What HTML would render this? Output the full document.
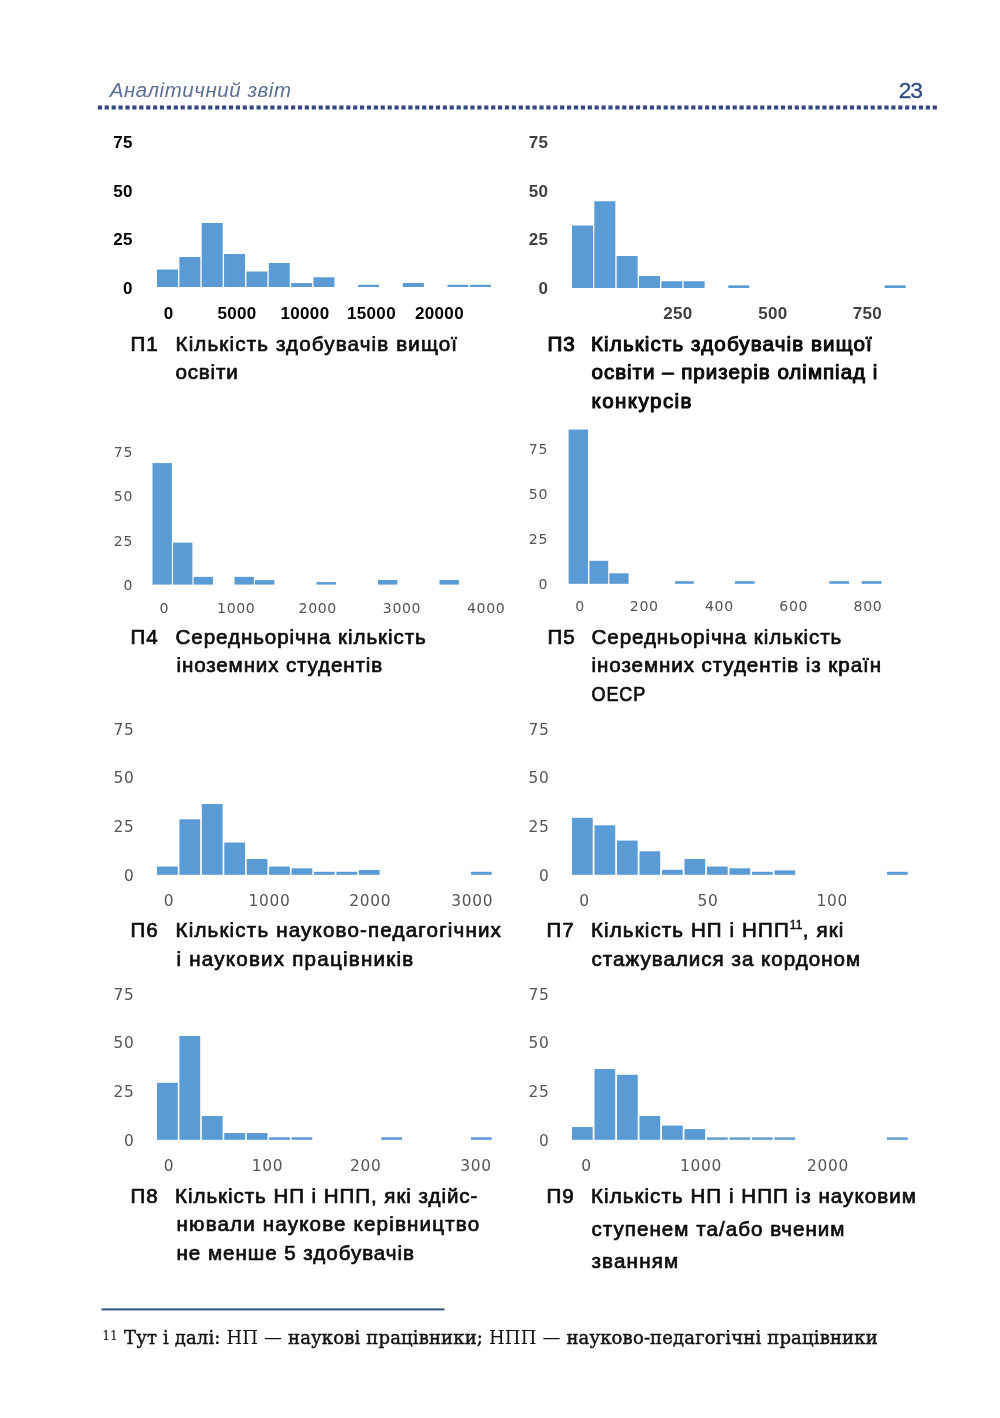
<!DOCTYPE html>
<html lang="uk">
<head>
<meta charset="utf-8">
<title>Аналітичний звіт — 23</title>
<style>
html,body{margin:0;padding:0;background:#fff;}
body{width:1000px;height:1418px;overflow:hidden;position:relative;}
svg{position:absolute;left:0;top:0;display:block;}
text{white-space:pre;}
.bars rect{fill:#5b9bd5;shape-rendering:auto;}
.lb1{font-family:"Liberation Sans",sans-serif;font-weight:bold;font-size:17px;fill:#000;letter-spacing:0.3px;}
.lb2{font-family:"Liberation Sans",sans-serif;font-weight:bold;font-size:17px;fill:#404040;letter-spacing:0.3px;}
.lb3{font-family:"DejaVu Sans","Liberation Sans",sans-serif;font-size:14.1px;fill:#555;letter-spacing:0.65px;}
.lb4{font-family:"DejaVu Sans","Liberation Sans",sans-serif;font-size:15.4px;fill:#555;letter-spacing:0.7px;}
.c1{font-family:"Liberation Sans",sans-serif;font-size:20.6px;fill:#0d0d0d;letter-spacing:1.0px;stroke:#0d0d0d;stroke-width:0.7px;stroke-linejoin:round;}
.c2{font-family:"Liberation Sans",sans-serif;font-size:20.6px;fill:#0a0a0a;letter-spacing:1.0px;stroke:#0a0a0a;stroke-width:1.05px;stroke-linejoin:round;}
.sup{font-size:12px;letter-spacing:0.2px;stroke-width:0.4px;}
.hd{font-family:"Liberation Sans",sans-serif;font-style:italic;font-size:20.5px;fill:#5a7096;letter-spacing:0.5px;}
.pn{font-family:"Liberation Sans",sans-serif;font-size:22.8px;fill:#2f4a80;stroke:#2f4a80;stroke-width:0.3px;letter-spacing:-1.2px;}
.dots{stroke:#364880;stroke-width:4.2;stroke-dasharray:4.2 2.7;}
.fn{font-family:"DejaVu Serif","Liberation Serif",serif;font-size:18px;fill:#111;letter-spacing:0.1px;}
.fb{stroke:#111;stroke-width:0.45px;}
.fsup{font-family:"DejaVu Serif","Liberation Serif",serif;font-size:12.3px;fill:#111;}
</style>
</head>
<body>
<svg width="1000" height="1418" viewBox="0 0 1000 1418">
<g class="bars">
<rect x="157.00" y="269.50" width="21.00" height="17.50"/>
<rect x="179.35" y="257.00" width="21.00" height="30.00"/>
<rect x="201.70" y="223.00" width="21.00" height="64.00"/>
<rect x="224.05" y="254.00" width="21.00" height="33.00"/>
<rect x="246.40" y="271.50" width="21.00" height="15.50"/>
<rect x="268.75" y="263.00" width="21.00" height="24.00"/>
<rect x="291.10" y="283.10" width="21.00" height="3.90"/>
<rect x="313.45" y="277.30" width="21.00" height="9.70"/>
<rect x="358.15" y="284.80" width="21.00" height="2.20"/>
<rect x="402.85" y="283.00" width="21.00" height="4.00"/>
<rect x="447.55" y="284.80" width="21.00" height="2.20"/>
<rect x="469.90" y="284.80" width="21.00" height="2.20"/>
</g>
<g class="lb1" text-anchor="end">
<text x="132.8" y="148.20">75</text>
<text x="132.8" y="196.90">50</text>
<text x="132.8" y="245.30">25</text>
<text x="132.8" y="294.20">0</text>
</g>
<g class="lb1" text-anchor="middle">
<text x="168.7" y="318.60">0</text>
<text x="237" y="318.60">5000</text>
<text x="305" y="318.60">10000</text>
<text x="371.5" y="318.60">15000</text>
<text x="439.5" y="318.60">20000</text>
</g>
<g class="bars">
<rect x="572.00" y="225.50" width="21.00" height="62.50"/>
<rect x="594.33" y="201.25" width="21.00" height="86.75"/>
<rect x="616.66" y="256.00" width="21.00" height="32.00"/>
<rect x="638.99" y="276.00" width="21.00" height="12.00"/>
<rect x="661.32" y="281.25" width="21.00" height="6.75"/>
<rect x="683.65" y="281.25" width="21.00" height="6.75"/>
<rect x="728.31" y="285.40" width="21.00" height="2.60"/>
<rect x="884.62" y="285.40" width="21.00" height="2.60"/>
</g>
<g class="lb2" text-anchor="end">
<text x="548.3" y="148.20">75</text>
<text x="548.3" y="196.90">50</text>
<text x="548.3" y="245.30">25</text>
<text x="548.3" y="294.20">0</text>
</g>
<g class="lb2" text-anchor="middle">
<text x="678" y="319.10">250</text>
<text x="773" y="319.10">500</text>
<text x="867.3" y="319.10">750</text>
</g>
<g class="bars">
<rect x="152.50" y="463.10" width="19.40" height="121.50"/>
<rect x="173.00" y="542.60" width="19.40" height="42.00"/>
<rect x="193.50" y="576.85" width="19.40" height="7.75"/>
<rect x="234.50" y="576.85" width="19.40" height="7.75"/>
<rect x="255.00" y="580.10" width="19.40" height="4.50"/>
<rect x="316.50" y="582.10" width="19.40" height="2.50"/>
<rect x="378.00" y="580.00" width="19.40" height="4.60"/>
<rect x="439.50" y="580.00" width="19.40" height="4.60"/>
</g>
<g class="lb3" text-anchor="end">
<text x="133.0" y="457.00">75</text>
<text x="133.0" y="500.75">50</text>
<text x="133.0" y="545.75">25</text>
<text x="133.0" y="590.00">0</text>
</g>
<g class="lb3" text-anchor="middle">
<text x="164.25" y="612.50">0</text>
<text x="236.25" y="612.50">1000</text>
<text x="317.75" y="612.50">2000</text>
<text x="402" y="612.50">3000</text>
<text x="486.2" y="612.50">4000</text>
</g>
<g class="bars">
<rect x="568.60" y="429.55" width="19.40" height="154.25"/>
<rect x="589.40" y="560.80" width="18.80" height="23.00"/>
<rect x="609.40" y="573.30" width="19.20" height="10.50"/>
<rect x="675.00" y="581.20" width="18.70" height="2.60"/>
<rect x="735.00" y="581.20" width="19.50" height="2.60"/>
<rect x="829.40" y="581.20" width="19.60" height="2.60"/>
<rect x="861.60" y="581.20" width="20.00" height="2.60"/>
</g>
<g class="lb3" text-anchor="end">
<text x="548.0" y="454.25">75</text>
<text x="548.0" y="499.25">50</text>
<text x="548.0" y="544.25">25</text>
<text x="548.0" y="589.25">0</text>
</g>
<g class="lb3" text-anchor="middle">
<text x="580" y="611.25">0</text>
<text x="644.25" y="611.25">200</text>
<text x="719.4" y="611.25">400</text>
<text x="793.7" y="611.25">600</text>
<text x="868" y="611.25">800</text>
</g>
<g class="bars">
<rect x="157.00" y="866.55" width="20.80" height="8.25"/>
<rect x="179.42" y="819.30" width="20.80" height="55.50"/>
<rect x="201.84" y="804.05" width="20.80" height="70.75"/>
<rect x="224.26" y="842.55" width="20.80" height="32.25"/>
<rect x="246.68" y="859.05" width="20.80" height="15.75"/>
<rect x="269.10" y="866.55" width="20.80" height="8.25"/>
<rect x="291.52" y="868.30" width="20.80" height="6.50"/>
<rect x="313.94" y="871.80" width="20.80" height="3.00"/>
<rect x="336.36" y="871.80" width="20.80" height="3.00"/>
<rect x="358.78" y="870.00" width="20.80" height="4.80"/>
<rect x="470.88" y="871.80" width="20.80" height="3.00"/>
</g>
<g class="lb4" text-anchor="end">
<text x="134.6" y="734.75">75</text>
<text x="134.6" y="783.45">50</text>
<text x="134.6" y="832.25">25</text>
<text x="134.6" y="880.65">0</text>
</g>
<g class="lb4" text-anchor="middle">
<text x="169" y="905.55">0</text>
<text x="269.6" y="905.55">1000</text>
<text x="370.2" y="905.55">2000</text>
<text x="472.2" y="905.55">3000</text>
</g>
<g class="bars">
<rect x="572.00" y="817.80" width="20.70" height="57.00"/>
<rect x="594.50" y="825.30" width="20.70" height="49.50"/>
<rect x="617.00" y="840.55" width="20.70" height="34.25"/>
<rect x="639.50" y="851.30" width="20.70" height="23.50"/>
<rect x="662.00" y="869.80" width="20.70" height="5.00"/>
<rect x="684.50" y="859.05" width="20.70" height="15.75"/>
<rect x="707.00" y="866.55" width="20.70" height="8.25"/>
<rect x="729.50" y="868.30" width="20.70" height="6.50"/>
<rect x="752.00" y="871.80" width="20.70" height="3.00"/>
<rect x="774.50" y="870.40" width="20.70" height="4.40"/>
<rect x="887.00" y="871.80" width="20.70" height="3.00"/>
</g>
<g class="lb4" text-anchor="end">
<text x="549.6" y="734.75">75</text>
<text x="549.6" y="783.45">50</text>
<text x="549.6" y="832.25">25</text>
<text x="549.6" y="880.65">0</text>
</g>
<g class="lb4" text-anchor="middle">
<text x="584.5" y="905.55">0</text>
<text x="708" y="905.55">50</text>
<text x="832.3" y="905.55">100</text>
</g>
<g class="bars">
<rect x="157.00" y="1082.80" width="20.80" height="57.00"/>
<rect x="179.42" y="1036.05" width="20.80" height="103.75"/>
<rect x="201.84" y="1116.05" width="20.80" height="23.75"/>
<rect x="224.26" y="1133.05" width="20.80" height="6.75"/>
<rect x="246.68" y="1133.05" width="20.80" height="6.75"/>
<rect x="269.10" y="1137.30" width="20.80" height="2.50"/>
<rect x="291.52" y="1137.30" width="20.80" height="2.50"/>
<rect x="381.20" y="1137.30" width="20.80" height="2.50"/>
<rect x="470.88" y="1137.30" width="20.80" height="2.50"/>
</g>
<g class="lb4" text-anchor="end">
<text x="134.6" y="999.75">75</text>
<text x="134.6" y="1048.45">50</text>
<text x="134.6" y="1097.25">25</text>
<text x="134.6" y="1145.65">0</text>
</g>
<g class="lb4" text-anchor="middle">
<text x="169" y="1170.55">0</text>
<text x="267.5" y="1170.55">100</text>
<text x="365.7" y="1170.55">200</text>
<text x="476" y="1170.55">300</text>
</g>
<g class="bars">
<rect x="572.00" y="1127.05" width="20.70" height="12.75"/>
<rect x="594.50" y="1069.05" width="20.70" height="70.75"/>
<rect x="617.00" y="1074.80" width="20.70" height="65.00"/>
<rect x="639.50" y="1116.05" width="20.70" height="23.75"/>
<rect x="662.00" y="1125.55" width="20.70" height="14.25"/>
<rect x="684.50" y="1129.05" width="20.70" height="10.75"/>
<rect x="707.00" y="1137.40" width="20.70" height="2.40"/>
<rect x="729.50" y="1137.40" width="20.70" height="2.40"/>
<rect x="752.00" y="1137.40" width="20.70" height="2.40"/>
<rect x="774.50" y="1137.40" width="20.70" height="2.40"/>
<rect x="887.00" y="1137.40" width="20.70" height="2.40"/>
</g>
<g class="lb4" text-anchor="end">
<text x="549.6" y="999.75">75</text>
<text x="549.6" y="1048.45">50</text>
<text x="549.6" y="1097.25">25</text>
<text x="549.6" y="1145.65">0</text>
</g>
<g class="lb4" text-anchor="middle">
<text x="586.5" y="1170.55">0</text>
<text x="701" y="1170.55">1000</text>
<text x="828" y="1170.55">2000</text>
</g>
<g class="c1">
<text id="P1_tag" x="130.50" y="351.0">П1</text>
<text id="P1_L1" x="175.50" y="351.0" textLength="282.60" lengthAdjust="spacing">Кількість здобувачів вищої</text>
<text id="P1_L2" x="175.50" y="378.5" textLength="63.20" lengthAdjust="spacing">освіти</text>
</g>
<g class="c2">
<text id="P3_tag" x="547.50" y="351.2">П3</text>
<text id="P3_L1" x="591.00" y="351.2" textLength="281.80" lengthAdjust="spacing">Кількість здобувачів вищої</text>
<text id="P3_L2" x="591.50" y="379.0" textLength="286.81" lengthAdjust="spacing">освіти – призерів олімпіад і</text>
<text id="P3_L3" x="591.50" y="407.5" textLength="101.04" lengthAdjust="spacing">конкурсів</text>
</g>
<g class="c1">
<text id="P4_tag" x="130.50" y="644.3">П4</text>
<text id="P4_L1" x="175.50" y="644.3" textLength="251.23" lengthAdjust="spacing">Середньорічна кількість</text>
<text id="P4_L2" x="176.50" y="672.3" textLength="206.67" lengthAdjust="spacing">іноземних студентів</text>
</g>
<g class="c1">
<text id="P5_tag" x="547.50" y="644.3">П5</text>
<text id="P5_L1" x="591.50" y="644.3" textLength="250.83" lengthAdjust="spacing">Середньорічна кількість</text>
<text id="P5_L2" x="591.50" y="672.3" textLength="290.53" lengthAdjust="spacing">іноземних студентів із країн</text>
<text id="P5_L3" x="591.50" y="700.5" textLength="54.57" lengthAdjust="spacingAndGlyphs">ОЕСР</text>
</g>
<g class="c1">
<text id="P6_tag" x="130.50" y="937.4">П6</text>
<text id="P6_L1" x="175.50" y="937.4" textLength="326.41" lengthAdjust="spacing">Кількість науково-педагогічних</text>
<text id="P6_L2" x="176.50" y="966.0" textLength="237.72" lengthAdjust="spacing">і наукових працівників</text>
</g>
<g class="c1">
<text id="P7_tag" x="546.50" y="937.4">П7</text>
<text id="P7_L1" x="591.00" y="937.4" textLength="253.31" lengthAdjust="spacing">Кількість НП і НПП<tspan class="sup" dy="-8">11</tspan><tspan dy="8">, які</tspan></text>
<text id="P7_L2" x="591.50" y="966.0" textLength="269.66" lengthAdjust="spacing">стажувалися за кордоном</text>
</g>
<g class="c1">
<text id="P8_tag" x="130.50" y="1203.3">П8</text>
<text id="P8_L1" x="175.00" y="1203.3" textLength="303.41" lengthAdjust="spacing">Кількість НП і НПП, які здійс-</text>
<text id="P8_L2" x="176.50" y="1231.3" textLength="303.62" lengthAdjust="spacing">нювали наукове керівництво</text>
<text id="P8_L3" x="176.50" y="1259.5" textLength="238.47" lengthAdjust="spacing">не менше 5 здобувачів</text>
</g>
<g class="c1">
<text id="P9_tag" x="546.50" y="1203.3">П9</text>
<text id="P9_L1" x="591.00" y="1203.3" textLength="325.91" lengthAdjust="spacing">Кількість НП і НПП із науковим</text>
<text id="P9_L2" x="591.50" y="1236.0" textLength="254.01" lengthAdjust="spacing">ступенем та/або вченим</text>
<text id="P9_L3" x="591.50" y="1268.3" textLength="87.67" lengthAdjust="spacing">званням</text>
</g>
<text class="pn" x="921.8" y="97.6" text-anchor="end">23</text>
<line class="dots" x1="97.8" y1="107.5" x2="937" y2="107.5"/>
<rect x="101.5" y="1308.4" width="343" height="2" fill="#34527f"/>
<text class="fsup" x="102.3" y="1339.6">11</text>
<text id="fn" class="fn" x="124.00" y="1344.3" textLength="753.75" lengthAdjust="spacing"><tspan class="fb">Тут і далі:</tspan> НП — <tspan class="fb">наукові працівники;</tspan> НПП — <tspan class="fb">науково-педагогічні працівники</tspan></text>
<text id="hd" class="hd" x="109.70" y="97.3" textLength="181.77" lengthAdjust="spacing">Аналітичний звіт</text>
</svg>
</body>
</html>
